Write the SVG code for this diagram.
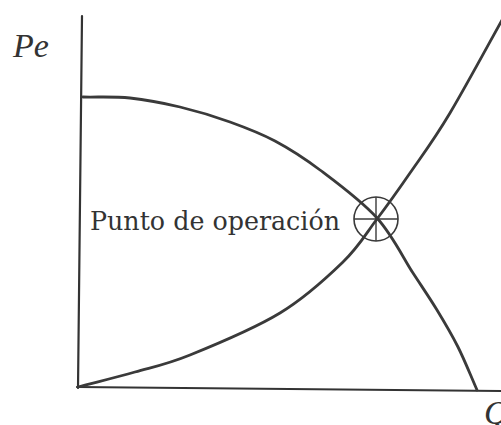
<svg xmlns="http://www.w3.org/2000/svg" width="501" height="425" viewBox="0 0 501 425">
<style>
.ax{fill:none;stroke:#333;stroke-width:2.2;stroke-linecap:round}
.cv{fill:none;stroke:#3a3a3a;stroke-width:2.8;stroke-linecap:round}
.lbl{font-family:"Liberation Serif",serif;font-style:italic;fill:#333}
.txt{font-family:"DejaVu Serif",serif;fill:#333}
</style>
<rect width="501" height="425" fill="#fff"/>
<g id="axes">
<line class="ax" x1="82" y1="16" x2="78" y2="388"/>
<line class="ax" x1="77" y1="387" x2="501" y2="391"/>
</g>
<g id="connectors">
<path id="rising" class="cv" d="M78,387 C97,382 116.3,377.3 135,372 C153.7,366.7 165.8,364.8 190,355 C214.2,345.2 254.5,328.5 280,313 C305.5,297.5 326.8,277.7 343,262 C359.2,246.3 365.8,233.8 377,219 C388.2,204.2 397.8,190.7 410,173 C422.2,155.3 433,141.5 450,113 C467,84.5 491.3,39 512,2"/>
<path id="falling" class="cv" d="M83,97 C98.7,97.3 113.8,96.3 130,98 C146.2,99.7 163.3,103 180,107 C196.7,111 214.2,116.3 230,122 C245.8,127.7 260,133 275,141 C290,149 303,157.2 320,170 C337,182.8 361.5,200.8 377,218 C392.5,235.2 403,257.7 413,273 C423,288.3 429.5,297.7 437,310 C444.5,322.3 451.3,333.7 458,347 C464.7,360.3 470.7,375.7 477,390"/>
</g>
<g id="operating-point">
<circle cx="376" cy="219" r="22" fill="none" stroke="#3a3a3a" stroke-width="1.6"/>
<line x1="354" y1="219" x2="398" y2="219" stroke="#3a3a3a" stroke-width="1.4"/>
<line x1="376" y1="197" x2="376" y2="241" stroke="#3a3a3a" stroke-width="1.4"/>
</g>
<g id="label-pe"><text class="lbl" x="13" y="57" font-size="34">Pe</text></g>
<g id="label-q"><text class="lbl" x="484" y="424" font-size="34">Q</text></g>
<g id="label-punto"><text class="txt" x="90" y="230" font-size="26" textLength="250" lengthAdjust="spacingAndGlyphs">Punto de operación</text></g>
</svg>
